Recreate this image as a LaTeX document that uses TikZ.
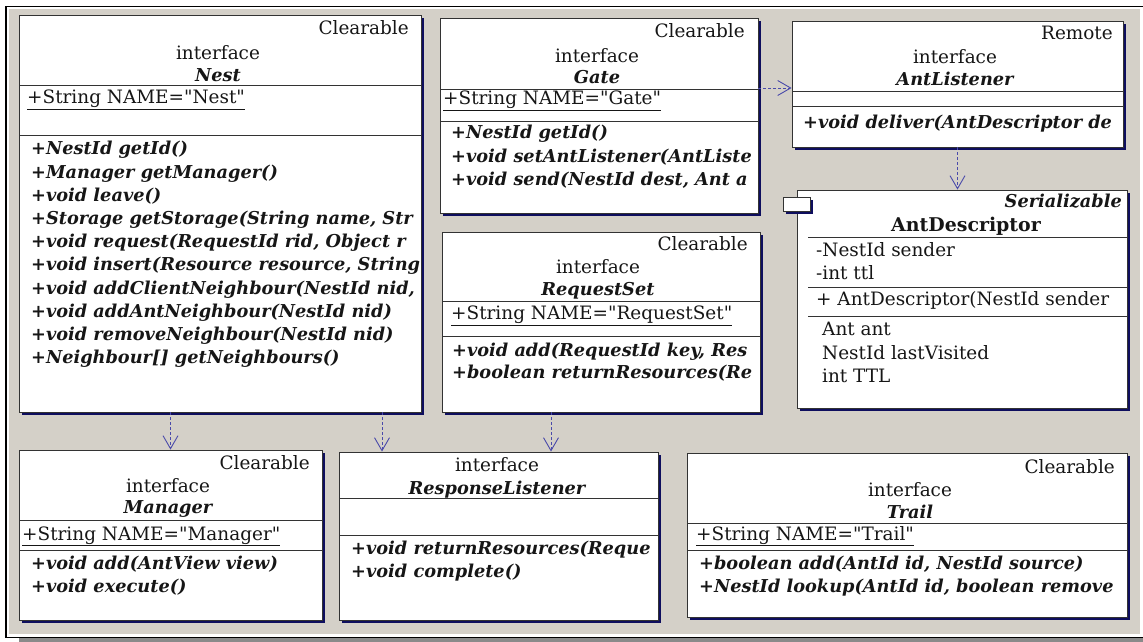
\documentclass[tikz,border=0pt]{standalone}
\usepackage{fontspec}
\setmainfont{DejaVu Serif}[Ligatures=TeXOff]
\usetikzlibrary{arrows.meta,fit}

\definecolor{canvas}{HTML}{D4D0C8}
\definecolor{shade}{HTML}{0E0E5E}
\definecolor{link}{HTML}{4A4AAA}
\definecolor{ink}{HTML}{161616}
\definecolor{edge}{HTML}{333333}
\definecolor{bar}{HTML}{8A8A8A}

\newcommand\regfont{\fontsize{18.5}{21}\selectfont}
\newcommand\bifont{\fontsize{17.8}{21}\selectfont\bfseries\itshape}

\tikzset{
  classbox/.style={draw=edge, fill=white, line width=0.9bp, inner sep=0pt},
  boxshadow/.style={fill=shade},
  divline/.style={draw=edge, line width=0.9bp},
  txt/.style={inner sep=0pt, text=ink, font=\regfont},
  stereo/.style={txt, anchor=base east},
  kind/.style={txt, anchor=base},
  cname/.style={txt, anchor=base, font=\bifont},
  attr/.style={txt, anchor=base west},
  meth/.style={txt, anchor=base west, font=\bifont},
  dep/.style={draw=link, line width=0.9bp, dash pattern=on 3bp off 2bp,
    -{Straight Barb[length=13bp,width=15bp,line width=0.9bp]}},
}

% class box: name, left, top, right, bottom (pixel units, y downward)
\newcommand\umlbox[5]{%
  \fill[boxshadow] (#2+3,#3+3) rectangle (#4+3,#5+3);
  \coordinate (#1-nw) at (#2,#3);
  \coordinate (#1-se) at (#4,#5);
  \node[classbox, fit=(#1-nw)(#1-se)] (#1) {};
  \def\bxl{#2}\def\bxt{#3}\def\bxr{#4}\def\bxb{#5}%
}
\newcommand\divider[1]{\draw[divline] (\bxl,#1) -- (\bxr,#1);}
\newcommand\boxclip{\clip (\bxl+1,\bxt+1) rectangle (\bxr-1,\bxb-1);}

\begin{document}
\begin{tikzpicture}[x=1bp, y=-1bp]
\useasboundingbox (0,0) rectangle (1143,642);

% canvas and frame
\fill[white] (0,0) rectangle (1143,642);
\fill[canvas] (9,9) rectangle (1140,634);
\draw[black, line width=1.2bp] (6,637.5) -- (6,6.5) -- (1143,6.5);
\draw[black, line width=1.2bp] (6,637.5) -- (1143,637.5);
\fill[bar] (19,638.2) rectangle (1143,642);

% ---------- Nest ----------
\umlbox{nest}{19}{15}{421}{412}
\divider{85}\divider{135}
\begin{scope}\boxclip
  \node[stereo] (nest-st) at (409,35) {Clearable};
  \node[kind] (nest-kw) at (218,60) {interface};
  \node[cname] (nest-nm) at (218,82) {Nest};
  \node[attr] (nest-a1) at (27,104) {\underline{+String NAME="Nest"}};
  \foreach \t [count=\i] in {{+NestId getId()},{+Manager getManager()},{+void leave()},
      {+Storage getStorage(String name, Str},{+void request(RequestId rid, Object r},
      {+void insert(Resource resource, String},{+void addClientNeighbour(NestId nid,},
      {+void addAntNeighbour(NestId nid)},{+void removeNeighbour(NestId nid)},
      {+Neighbour[] getNeighbours()}}
    \node[meth] (nest-m\i) at (31,{155+23.2*(\i-1)}) {\t};
\end{scope}

% ---------- Gate ----------
\umlbox{gate}{440}{18}{758}{213}
\divider{89}\divider{121}
\begin{scope}\boxclip
  \node[stereo] (gate-st) at (745,38) {Clearable};
  \node[kind] (gate-kw) at (597,63) {interface};
  \node[cname] (gate-nm) at (597,84) {Gate};
  \node[attr] (gate-a1) at (443,105) {\underline{+String NAME="Gate"}};
  \foreach \t [count=\i] in {{+NestId getId()},{+void setAntListener(AntListe},
      {+void send(NestId dest, Ant a}}
    \node[meth] (gate-m\i) at (451,{139+23.2*(\i-1)}) {\t};
\end{scope}

% ---------- AntListener ----------
\umlbox{antl}{792}{21}{1123}{147}
\divider{91}\divider{106}
\begin{scope}\boxclip
  \node[stereo] (antl-st) at (1113,40) {Remote};
  \node[kind] (antl-kw) at (955,64) {interface};
  \node[cname] (antl-nm) at (955,86) {AntListener};
  \node[meth] (antl-m1) at (803,129) {+void deliver(AntDescriptor de};
\end{scope}

% ---------- AntDescriptor ----------
\umlbox{antd}{797}{190}{1127}{408}
\fill[boxshadow] (786,200) rectangle (813,214);
\draw[classbox] (783,197) rectangle (810,211);
\draw[divline] (808,237) -- (1127,237);
\draw[divline] (808,287) -- (1127,287);
\draw[divline] (808,316) -- (1127,316);
\begin{scope}\boxclip
  \node[stereo, font=\bifont] (antd-st) at (1122,208) {Serializable};
  \node[kind, font=\fontsize{19}{21}\selectfont\bfseries] (antd-nm) at (966,232) {AntDescriptor};
  \node[attr] (antd-a1) at (816,257) {-NestId sender};
  \node[attr] (antd-a2) at (816,280) {-int ttl};
  \node[attr] (antd-c1) at (816,306) {+ AntDescriptor(NestId sender};
  \node[attr] (antd-f1) at (822,336) {Ant ant};
  \node[attr] (antd-f2) at (822,359) {NestId lastVisited};
  \node[attr] (antd-f3) at (822,382) {int TTL};
\end{scope}

% ---------- RequestSet ----------
\umlbox{reqs}{442}{232}{760}{412}
\divider{301}\divider{336}
\begin{scope}\boxclip
  \node[stereo] (reqs-st) at (748,251) {Clearable};
  \node[kind] (reqs-kw) at (598,274) {interface};
  \node[cname] (reqs-nm) at (598,296) {RequestSet};
  \node[attr] (reqs-a1) at (451,320) {\underline{+String NAME="RequestSet"}};
  \foreach \t [count=\i] in {{+void add(RequestId key, Res},{+boolean returnResources(Re}}
    \node[meth] (reqs-m\i) at (452,{356+22*(\i-1)}) {\t};
\end{scope}

% ---------- Manager ----------
\umlbox{mgr}{19}{450}{322}{620}
\divider{520}\divider{550}
\begin{scope}\boxclip
  \node[stereo] (mgr-st) at (310,469) {Clearable};
  \node[kind] (mgr-kw) at (168,492) {interface};
  \node[cname] (mgr-nm) at (168,513) {Manager};
  \node[attr] (mgr-a1) at (22,540) {\underline{+String NAME="Manager"}};
  \foreach \t [count=\i] in {{+void add(AntView view)},{+void execute()}}
    \node[meth] (mgr-m\i) at (31,{569+23.2*(\i-1)}) {\t};
\end{scope}

% ---------- ResponseListener ----------
\umlbox{resp}{339}{452}{658}{620}
\divider{498}\divider{535}
\begin{scope}\boxclip
  \node[kind] (resp-kw) at (497,471) {interface};
  \node[cname] (resp-nm) at (497,494) {ResponseListener};
  \foreach \t [count=\i] in {{+void returnResources(Reque},{+void complete()}}
    \node[meth] (resp-m\i) at (351,{554+23.2*(\i-1)}) {\t};
\end{scope}

% ---------- Trail ----------
\umlbox{trail}{687}{453}{1127}{617}
\divider{523}\divider{550}
\begin{scope}\boxclip
  \node[stereo] (trail-st) at (1115,473) {Clearable};
  \node[kind] (trail-kw) at (910,496) {interface};
  \node[cname] (trail-nm) at (910,518) {Trail};
  \node[attr] (trail-a1) at (696,540) {\underline{+String NAME="Trail"}};
  \foreach \t [count=\i] in {{+boolean add(AntId id, NestId source)},{+NestId lookup(AntId id, boolean remove}}
    \node[meth] (trail-m\i) at (699,{569+23.2*(\i-1)}) {\t};
\end{scope}

% ---------- dependencies ----------
\coordinate (gateline) at (0,88);
\coordinate (nestdrop) at (382,0);
\coordinate (reqsdrop) at (551,0);
\draw[dep] (gate.east |- gateline) -- (antl.west |- gateline);
\draw[dep] (antl.south) -- (antl.south |- antd.north);
\draw[dep] (mgr.north |- nest.south) -- (mgr.north);
\draw[dep] (nestdrop |- nest.south) -- (nestdrop |- resp.north);
\draw[dep] (reqsdrop |- reqs.south) -- (reqsdrop |- resp.north);
\end{tikzpicture}
\end{document}
